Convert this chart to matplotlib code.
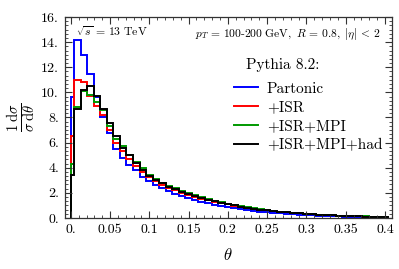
import numpy as np
import matplotlib
matplotlib.use("Agg")
import matplotlib.pyplot as plt
from matplotlib.ticker import MultipleLocator, AutoMinorLocator

plt.rcParams['font.family'] = 'cmr10'
plt.rcParams['mathtext.fontset'] = 'cm'
plt.rcParams['axes.formatter.use_mathtext'] = True

# bin layout: first bin is half-width, then bins of width 1/120 centred on k/120
bin_w = 1 / 120
n_bins = 49

partonic = [9.6, 14.2, 13.0, 11.5, 9.6, 8.0, 6.8, 5.5, 4.8, 4.25,
            3.8, 3.3, 2.95, 2.65, 2.35, 2.12, 1.9, 1.72, 1.57, 1.43,
            1.3, 1.17, 1.06, 0.96, 0.86, 0.77, 0.7, 0.63, 0.56, 0.5,
            0.45, 0.4, 0.36, 0.32, 0.29, 0.26, 0.23, 0.2, 0.18, 0.16,
            0.14, 0.13, 0.11, 0.1, 0.09, 0.08, 0.07, 0.06, 0.05]
isr = [6.5, 11.0, 10.85, 9.75, 8.9, 8.2, 7.0, 5.95, 5.3, 4.7,
       4.1, 3.65, 3.25, 2.95, 2.65, 2.42, 2.22, 2.02, 1.85, 1.7,
       1.55, 1.42, 1.3, 1.18, 1.08, 0.98, 0.89, 0.81, 0.73, 0.66,
       0.6, 0.54, 0.49, 0.44, 0.4, 0.36, 0.32, 0.29, 0.26, 0.23,
       0.2, 0.18, 0.16, 0.14, 0.12, 0.11, 0.1, 0.09, 0.08]
isr_mpi = [4.3, 8.8, 10.1, 9.8, 9.2, 8.6, 7.3, 6.3, 5.75, 5.05,
           4.45, 3.95, 3.45, 3.12, 2.82, 2.58, 2.36, 2.16, 1.97, 1.8,
           1.64, 1.5, 1.37, 1.25, 1.13, 1.03, 0.93, 0.84, 0.76, 0.69,
           0.62, 0.56, 0.5, 0.45, 0.41, 0.37, 0.33, 0.3, 0.27, 0.24,
           0.21, 0.19, 0.17, 0.15, 0.13, 0.12, 0.1, 0.09, 0.08]
isr_mpi_had = [3.4, 8.7, 10.2, 10.5, 9.7, 8.7, 7.6, 6.5, 5.6, 5.0,
               4.4, 3.85, 3.35, 3.05, 2.75, 2.5, 2.3, 2.1, 1.92, 1.75,
               1.6, 1.45, 1.32, 1.2, 1.1, 1.0, 0.9, 0.82, 0.74, 0.67,
               0.61, 0.55, 0.49, 0.44, 0.4, 0.36, 0.32, 0.29, 0.26, 0.23,
               0.2, 0.18, 0.16, 0.14, 0.12, 0.11, 0.09, 0.08, 0.07]

series = [("Partonic", partonic, "#0000ff"),
          ("+ISR", isr, "#ff0000"),
          ("+ISR+MPI", isr_mpi, "#009900"),
          ("+ISR+MPI+had", isr_mpi_had, "black")]

edges = np.concatenate([[0.0], bin_w / 2 + bin_w * np.arange(n_bins)])

fig = plt.figure(figsize=(3.99, 2.69), dpi=100)
ax = fig.add_axes([0.1617, 0.1896, 0.9825 - 0.1617, 0.9368 - 0.1896])

for name, vals, col in series:
    ax.stairs(vals, edges, color=col, lw=1.4, label=name)

ax.set_xlim(-0.008, 0.409)
ax.set_ylim(0, 16)

xt = [0, 0.05, 0.1, 0.15, 0.2, 0.25, 0.3, 0.35, 0.4]
xtl = ["0.", "0.05", "0.1", "0.15", "0.2", "0.25", "0.3", "0.35", "0.4"]
yt = [0, 2, 4, 6, 8, 10, 12, 14, 16]
ytl = ["0.", "2.", "4.", "6.", "8.", "10.", "12.", "14.", "16."]
ax.set_xticks(xt)
ax.set_xticklabels(xtl)
ax.set_yticks(yt)
ax.set_yticklabels(ytl)
ax.xaxis.set_minor_locator(MultipleLocator(0.01))
ax.yaxis.set_minor_locator(AutoMinorLocator(6))
ax.tick_params(which='both', direction='in', top=True, right=True,
               labelsize=10, color='#333333', pad=4)
ax.tick_params(which='major', length=5, width=0.8)
ax.tick_params(which='minor', length=2.5, width=0.6)
for s in ax.spines.values():
    s.set_color('#333333')
    s.set_linewidth(0.9)

ax.set_xlabel(r'$\theta$', fontsize=12, labelpad=8)
ax.set_ylabel(r'$\frac{1\;\mathrm{d}\sigma}{\sigma\;\mathrm{d}\theta}$',
              fontsize=15, labelpad=2)

ax.text(0.035, 0.962, r'$\sqrt{s}\,=\,13\ \mathrm{TeV}$', transform=ax.transAxes,
        fontsize=8.5, va='top', ha='left')
ax.text(0.965, 0.955,
        r'$p_T\,=\,\mathrm{100\text{-}200\ GeV},\ R\,=\,0.8,\ |\eta|\,<\,2$',
        transform=ax.transAxes, fontsize=8.3, va='top', ha='right')

fig.text(283 / 399, 1 - 65 / 269, 'Pythia 8.2:', fontsize=11,
         ha='center', va='center')
ax.legend(loc='upper left', bbox_to_anchor=(234 / 399, 1 - 82 / 269),
          bbox_transform=fig.transFigure, frameon=False, fontsize=11,
          handlelength=1.6, handletextpad=0.55, labelspacing=0.33,
          borderpad=0, borderaxespad=0)

fig.savefig('out.png', dpi=100)
